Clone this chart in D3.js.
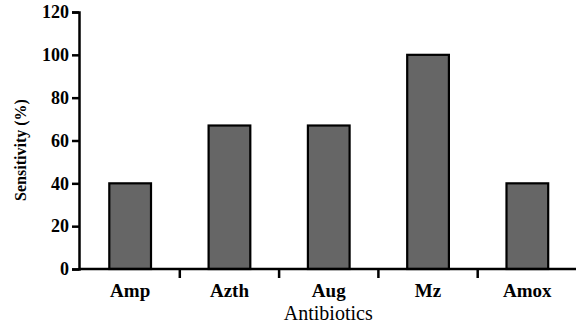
<!DOCTYPE html>
<html>
<head>
<meta charset="utf-8">
<script src="https://cdn.jsdelivr.net/npm/d3@7"></script>
<style>
  body { margin: 0; background: #fff; }
  svg { display: block; }
  #chart text { font-family: "Times New Roman", "Liberation Serif", Times, serif !important; }
</style>
</head>
<body>
<svg id="chart" width="576" height="326"></svg>
<script>
// chart data
const categories = ["Amp", "Azth", "Aug", "Mz", "Amox"];
const sensitivity = [40, 67, 67, 100, 40];
const yTicks = [0, 20, 40, 60, 80, 100, 120];

const svg = d3.select("#chart");
const margin = { left: 80.5, right: -1, top: 12, bottom: 57 };
const width = 576, height = 326;
const serif = "'Times New Roman', 'Liberation Serif', Times, serif";

const x = d3.scaleBand()
  .domain(categories)
  .range([margin.left, width - margin.right])
  .paddingInner(0.58)
  .paddingOuter(0.29);

const y = d3.scaleLinear()
  .domain([0, 120])
  .range([height - margin.bottom, margin.top]);

// bars
svg.append("g")
  .selectAll("rect")
  .data(categories)
  .join("rect")
  .attr("x", d => x(d))
  .attr("y", (d, i) => y(sensitivity[i]))
  .attr("width", x.bandwidth())
  .attr("height", (d, i) => y(0) - y(sensitivity[i]))
  .attr("fill", "#666666")
  .attr("stroke", "#000")
  .attr("stroke-width", 2.2);

// y axis
const yAxis = svg.append("g")
  .attr("transform", `translate(${margin.left - 1.5},0)`)
  .call(d3.axisLeft(y).tickValues(yTicks).tickSize(7).tickPadding(3));
yAxis.attr("font-family", null);

// x axis: ticks sit between the categories
const step = x.step();
const xEdges = d3.range(1, categories.length).map(i => margin.left + i * step);
const xAxis = svg.append("g")
  .attr("transform", `translate(0,${y(0)})`);
xAxis.append("line")
  .attr("x1", margin.left - 1.5)
  .attr("x2", width)
  .attr("stroke", "#000")
  .attr("stroke-width", 2.5);
xAxis.selectAll("line.tick")
  .data(xEdges)
  .join("line")
  .attr("class", "tick")
  .attr("x1", d => d).attr("x2", d => d)
  .attr("y1", 0).attr("y2", 9)
  .attr("stroke", "#000")
  .attr("stroke-width", 2.5);
xAxis.selectAll("text.lbl")
  .data(categories)
  .join("text")
  .attr("class", "lbl")
  .attr("x", d => x(d) + x.bandwidth() / 2)
  .attr("y", 28)
  .attr("text-anchor", "middle")
  .style("font-size", "19px")
  .style("font-weight", "bold")
  .text(d => d);

yAxis.select(".domain").attr("stroke-width", 2.5);
yAxis.selectAll(".tick line").attr("stroke-width", 2.5);
yAxis.selectAll(".tick text")
  .style("font-size", "18px")
  .style("font-weight", "bold")
  .attr("fill", "#000");

// axis titles
svg.append("text")
  .attr("x", (margin.left + width) / 2)
  .attr("y", 320)
  .attr("text-anchor", "middle")
  .style("font-size", "20px")
  .text("Antibiotics");

svg.append("text")
  .attr("transform", `translate(26,150) rotate(-90)`)
  .attr("text-anchor", "middle")
  .style("font-size", "16px")
  .style("font-weight", "bold")
  .text("Sensitivity (%)");

// make sure every label uses the serif face
svg.selectAll("text").style("font-family", serif);
if (document.fonts) document.fonts.ready.then(() => svg.selectAll("text").style("font-family", serif));
</script>
</body>
</html>
